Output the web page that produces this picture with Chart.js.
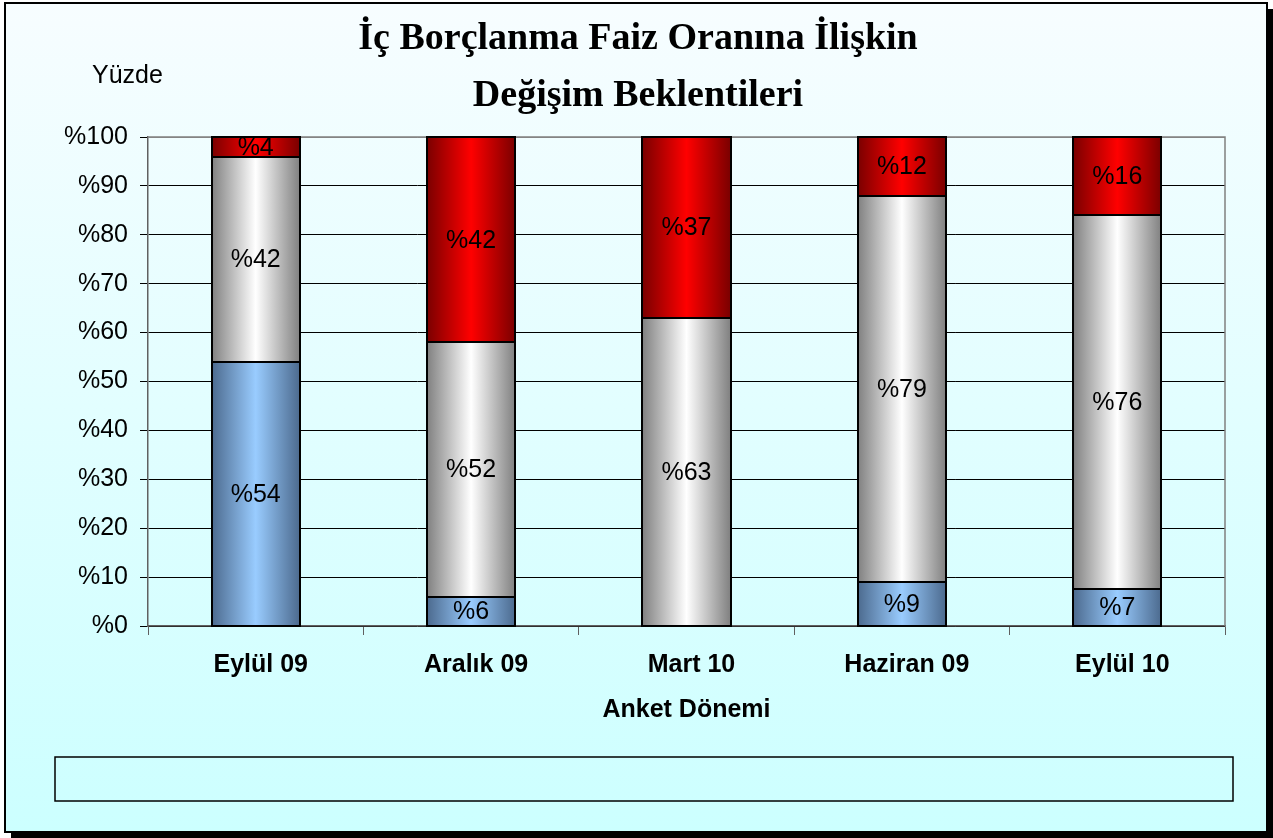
<!DOCTYPE html>
<html>
<head>
<meta charset="utf-8">
<script src="https://cdn.jsdelivr.net/npm/chart.js@4.4.1/dist/chart.umd.min.js"></script>
<style>
    html, body { margin: 0; padding: 0; background: #ffffff; }
    #wrap { width: 1273px; height: 838px; position: relative; }
</style>
</head>
<body>
<div id="wrap"><canvas id="bar-chart" width="1273" height="838"></canvas></div>
<script>
// data
var periods = ['Eylül 09', 'Aralık 09', 'Mart 10', 'Haziran 09', 'Eylül 10'];
var decrease = [54, 6, 0, 9, 7.5];
var noChange = [42, 52, 63, 79, 76.5];
var increase = [4, 42, 37, 12, 16];
var yTicks = [0, 10, 20, 30, 40, 50, 60, 70, 80, 90, 100];

var titleLines = ['İç Borçlanma Faiz Oranına İlişkin', 'Değişim Beklentileri'];
var yTitle = 'Yüzde';
var xTitle = 'Anket Dönemi';

document.addEventListener("DOMContentLoaded", function () {
    var barPct = 0.41;
    var sans = '"Liberation Sans", Arial, sans-serif';

    // horizontal gradient across each bar (dark edges, light middle)
    function barGradient(edge, mid) {
        return function (context) {
            var chart = context.chart;
            var xs = chart.scales.x;
            if (!xs || context.dataIndex === undefined) return mid;
            var cx = xs.getPixelForValue(context.dataIndex);
            var w = (xs.width / periods.length) * barPct;
            if (!isFinite(cx) || !isFinite(w) || w <= 0) return mid;
            var g = chart.ctx.createLinearGradient(cx - w / 2, 0, cx + w / 2, 0);
            g.addColorStop(0, edge);
            g.addColorStop(0.5, mid);
            g.addColorStop(1, edge);
            return g;
        };
    }

    // background, frame, titles, empty legend box
    var decor = {
        id: 'decor',
        beforeDraw: function (chart) {
            var c = chart.ctx;
            c.save();
            c.fillStyle = '#ffffff';
            c.fillRect(0, 0, chart.width, chart.height);
            // shadow
            c.fillStyle = '#000000';
            c.fillRect(11, 9, 1262, 829);
            var bg = c.createLinearGradient(0, 3, 0, 832);
            bg.addColorStop(0, '#f7fdff');
            bg.addColorStop(1, '#ccffff');
            c.fillStyle = bg;
            c.fillRect(5, 3, 1262, 829);
            c.lineWidth = 2;
            c.strokeStyle = '#000000';
            c.strokeRect(5, 3, 1262, 829);

            c.fillStyle = '#000000';
            c.textAlign = 'center';
            c.textBaseline = 'middle';
            c.font = 'bold 38px "Liberation Serif", "Times New Roman", serif';
            c.fillText(titleLines[0], 638, 39);
            c.fillText(titleLines[1], 638, 96);

            c.textAlign = 'left';
            c.font = '25px ' + sans;
            c.fillText(yTitle, 92, 76);

            c.lineWidth = 1.5;
            c.strokeRect(55, 757, 1178, 44);
            c.restore();
        },
        beforeDatasetsDraw: function (chart) {
            var a = chart.chartArea;
            var c = chart.ctx;
            c.save();
            c.strokeStyle = '#808080';
            c.lineWidth = 1.5;
            c.beginPath();
            c.moveTo(a.left, a.top);
            c.lineTo(a.right, a.top);
            c.lineTo(a.right, a.bottom);
            c.stroke();
            c.restore();
        },
        afterDatasetsDraw: function (chart) {
            var c = chart.ctx;
            c.save();
            // black outline round every segment
            c.strokeStyle = '#000000';
            c.lineWidth = 2;
            chart.data.datasets.forEach(function (ds, di) {
                chart.getDatasetMeta(di).data.forEach(function (bar, i) {
                    if (!ds.data[i]) return;
                    var x0 = Math.round(bar.x - bar.width / 2);
                    var x1 = Math.round(bar.x + bar.width / 2);
                    var y0 = Math.round(Math.min(bar.y, bar.base));
                    var y1 = Math.round(Math.max(bar.y, bar.base));
                    c.strokeRect(x0, y0, x1 - x0, y1 - y0);
                });
            });
            // value labels
            c.fillStyle = '#000000';
            c.textAlign = 'center';
            c.textBaseline = 'middle';
            c.font = '25px ' + sans;
            chart.data.datasets.forEach(function (ds, di) {
                chart.getDatasetMeta(di).data.forEach(function (bar, i) {
                    var v = ds.data[i];
                    if (!v) return;
                    var yMid = (bar.y + bar.base) / 2;
                    c.fillText('%' + Math.floor(v), bar.x, yMid + 1);
                });
            });
            c.restore();
        }
    };

    var common = {
        borderWidth: 0,
        barPercentage: barPct,
        categoryPercentage: 1
    };

    var ctx1 = document.getElementById('bar-chart');
    if (ctx1) {
        var barChart = new Chart(ctx1.getContext('2d'), {
            type: 'bar',
            data: {
                labels: periods,
                datasets: [
                    Object.assign({ label: 'Azalış', data: decrease, backgroundColor: barGradient('#4c6a8e', '#99ccff') }, common),
                    Object.assign({ label: 'Değişmez', data: noChange, backgroundColor: barGradient('#808080', '#ffffff') }, common),
                    Object.assign({ label: 'Artış', data: increase, backgroundColor: barGradient('#7a0000', '#ff0000') }, common)
                ]
            },
            options: {
                responsive: false,
                animation: false,
                layout: {
                    padding: { left: 0, right: 48, top: 137, bottom: 0 }
                },
                plugins: {
                    legend: { display: false },
                    title: { display: false },
                    tooltip: { enabled: false }
                },
                scales: {
                    x: {
                        stacked: true,
                        offset: true,
                        border: { color: '#606060', width: 1.5 },
                        grid: {
                            offset: true,
                            drawOnChartArea: false,
                            tickLength: 9,
                            color: '#606060'
                        },
                        ticks: {
                            color: '#000000',
                            padding: 15,
                            labelOffset: 5,
                            font: { family: sans, size: 25, weight: 'bold' }
                        },
                        title: {
                            display: true,
                            text: xTitle,
                            color: '#000000',
                            padding: { top: 0, bottom: 113 },
                            font: { family: sans, size: 25, weight: 'bold' }
                        },
                        afterFit: function (scale) { scale.height = 212; }
                    },
                    y: {
                        stacked: true,
                        min: 0,
                        max: 100,
                        border: { color: '#606060', width: 1.5 },
                        grid: {
                            color: function (c) { return c.tick && c.tick.value === 100 ? '#909090' : '#000000'; },
                            tickColor: '#000000',
                            tickLength: 8,
                            lineWidth: 1
                        },
                        afterBuildTicks: function (scale) {
                            scale.ticks = yTicks.map(function (v) { return { value: v }; });
                        },
                        ticks: {
                            color: '#000000',
                            padding: 12,
                            font: { family: sans, size: 25 },
                            callback: function (v) { return '%' + v; }
                        },
                        afterFit: function (scale) { scale.width = 148; }
                    }
                }
            },
            plugins: [decor]
        });
    }
});
</script>
</body>
</html>
